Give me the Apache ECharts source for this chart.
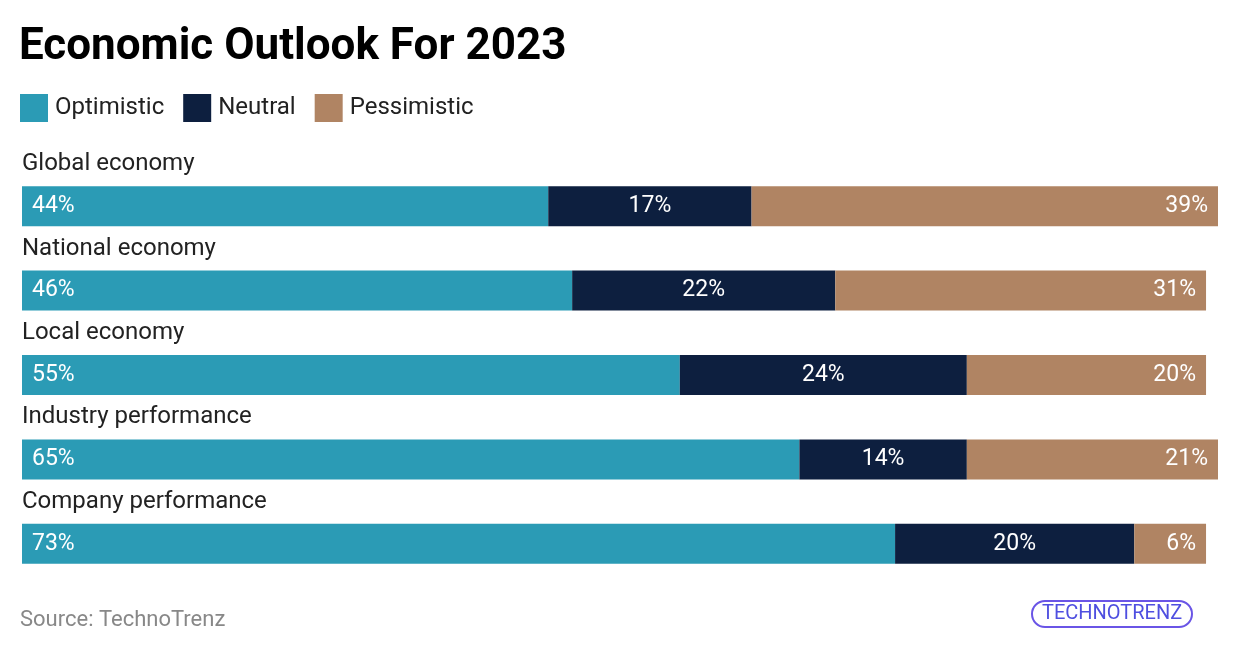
<!DOCTYPE html>
<html>
<head>
<meta charset="utf-8">
<script src="https://cdn.jsdelivr.net/npm/echarts@6/dist/echarts.min.js"></script>
<style>
html,body{margin:0;padding:0;background:#fff;}
#chart{width:1240px;height:652px;}
</style>
</head>
<body>
<div id="chart"></div>
<script>
const categories = ["Global economy", "National economy", "Local economy", "Industry performance", "Company performance"];
const optimistic = [44, 46, 55, 65, 73];
const neutral = [17, 22, 24, 14, 20];
const pessimistic = [39, 31, 20, 21, 6];
const seriesNames = ["Optimistic", "Neutral", "Pessimistic"];
const colors = ["#2B9BB5", "#0D1F3F", "#B08463"];

const chart = echarts.init(document.getElementById('chart'), null, {renderer: 'canvas'});
const font = 'Roboto, "Noto Sans", sans-serif';
const labelStyle = (pos, dist) => ({
  show: true, position: pos, distance: dist, color: '#fff', fontSize: 23, fontFamily: font,
  formatter: p => p.value + '%'
});
const option = {
  animation: false,
  backgroundColor: '#fff',
  title: [
    {text: 'Economic Outlook For 2023', left: 14, top: 21,
     textStyle: {fontSize: 44, fontWeight: 'bold', color: '#000', fontFamily: font}},
    {text: 'Source: TechnoTrenz', left: 15, top: 604,
     textStyle: {fontSize: 22, fontWeight: 'normal', color: '#888', fontFamily: font}},
    {text: 'TECHNOTRENZ', left: 1032, top: 601, padding: [3, 10, 3, 10],
     borderColor: '#6a55e6', borderWidth: 2, borderRadius: 14,
     textStyle: {fontSize: 20, fontWeight: 'normal', color: '#4f4fe0', fontFamily: font}}
  ],
  legend: {
    left: 15, top: 89, itemWidth: 28, itemHeight: 28, itemGap: 19,
    icon: 'rect',
    textStyle: {fontSize: 24, color: '#222', fontFamily: font, padding: [0, 0, 0, 2]},
    data: seriesNames
  },
  grid: {left: 22, right: 22, top: 164, height: 422},
  xAxis: {type: 'value', min: 0, max: 100, show: false},
  yAxis: {
    type: 'category', data: categories, inverse: true, z: 10,
    axisLine: {show: false}, axisTick: {show: false}, splitLine: {show: false},
    axisLabel: {show: true, interval: 0, inside: true, margin: 0, align: 'left', verticalAlign: 'bottom',
      padding: [0, 0, 30, 0], fontSize: 24, color: '#222', fontFamily: font}
  },
  series: [
    {name: seriesNames[0], type: 'bar', stack: 'a', data: optimistic, barWidth: 40,
     itemStyle: {color: colors[0]}, label: labelStyle('insideLeft', 10)},
    {name: seriesNames[1], type: 'bar', stack: 'a', data: neutral, barWidth: 40,
     itemStyle: {color: colors[1]}, label: labelStyle('inside', 0)},
    {name: seriesNames[2], type: 'bar', stack: 'a', data: pessimistic, barWidth: 40,
     itemStyle: {color: colors[2]}, label: labelStyle('insideRight', 10)}
  ]
};
chart.setOption(option);
</script>
</body>
</html>
